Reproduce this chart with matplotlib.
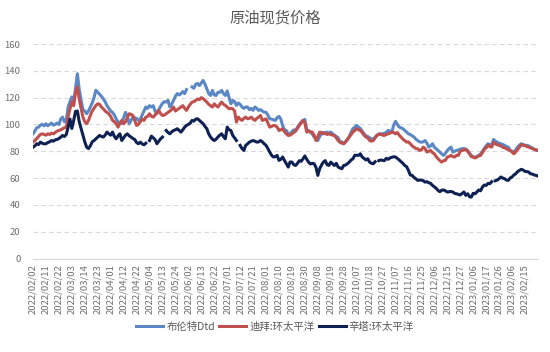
import numpy as np
import pandas as pd
import matplotlib
matplotlib.use('Agg')
import matplotlib.pyplot as plt

plt.rcParams['font.family'] = ['Noto Sans CJK SC', 'DejaVu Sans']
plt.rcParams['axes.unicode_minus'] = False

nan = np.nan

# 交易日（去掉部分假日）
holidays = ['2022-04-15', '2022-05-02', '2022-12-26', '2023-01-02']
dates = pd.bdate_range('2022-02-02', '2023-02-24')
dates = dates[~dates.isin(pd.to_datetime(holidays))]

brent = [
    93, 95, 97.5, 98, 99.5, 100, 99,
    100.5, 99, 100, 101, 99.5, 100, 101,
    100, 104, 105.5, 102, 103, 113, 117,
    120.5, 116.5, 127, 137.8, 126, 118, 111,
    110, 108, 110, 113, 116, 120, 125.5,
    124, 122.5, 121, 119, 117, 114, 112,
    110, 109, 107, 104, 102, 100.5, 101,
    105, 109, 106, 100.5, 103, 105.5, 105,
    104.5, 103, 104, 107, 110, 113, 112,
    114, 113, 114, 110, 108, 111, 113.5,
    115.7, 117, 116.7, 118, 113, 115, 118,
    121, 123, 122, 123, 124.5, 123, 126,
    nan, nan, 128, 127, 130, 130.6, 129,
    131, 132.8, 130, 126.6, 123, 121.6, 125.4,
    122, 121.6, 124, 124, 125.4, 123, 121.6,
    125, 120, 115.4, 118, 117, 114.2, 116,
    115, 113, 112, 113, 113, 111, 112,
    110.5, 113, 112, 110.5, 111, 110, 109.2,
    109, 107, 104.2, 104, 103.5, 103, 105,
    106, 104, 99, 96, 95.5, 93, 93,
    94.5, 96, 95, 98, 100, 101.8, 103,
    103.7, 96, 95.5, 94, 93, 90.6, 90,
    88, 91, 93, 94, 93.5, 94.3, 93.5,
    94.3, 93, 92, 91, 90, 86.8, 87,
    85.6, 87, 88.5, 91, 94.3, 96.8, 98,
    99.3, 98, 97, 95, 93, 91.5, 91,
    90, 89.3, 89, 90.5, 92, 93, 92.5,
    93, 93.5, 94, 95.5, 95, 94.3, 99.3,
    102.3, 100, 98, 97.5, 96.8, 95.5, 94.3,
    93, 92.5, 91.5, 90.6, 89, 88, 87,
    86.8, 87, 88, 86, 83.1, 84, 85.6,
    83, 81.9, 80.5, 79.4, 78, 76.9, 78.5,
    80.6, 82, 83.1, 79.4, 80, 80.6, 81,
    81.5, 81.9, 82, 81.5, 80.6, 78.5, 76.9,
    75.7, 75.5, 76, 76.9, 78, 80, 81.9,
    84, 85.6, 85, 84.4, 88.8, 87.5, 86.8,
    86, 85.6, 85, 84.4, 83.5, 83.1, 80.6,
    80, 79.4, 81, 83.1, 84.5, 85.6, 85,
    84.4, 84.4, 84, 83.1, 82.5, 81.4, 81,
    80.6,
]

dubai = [
    87, 88, 89.5, 91, 92.5, 93, 92.5,
    92, 93, 92.5, 93.5, 93, 94, 95,
    95.5, 96, 96.8, 97.5, 98, 106, 111.7,
    116.7, 114, 124, 127.9, 119, 112, 105.5,
    102, 100.5, 103, 106.7, 110, 112, 114.2,
    115.4, 115, 113, 111.7, 110, 109, 108,
    106, 103, 102, 100.5, 98, 101, 103,
    100.5, 102, 105, 108, 107.5, 106.7, 103,
    99.3, 100, 102, 104, 103, 105.5, 106,
    108, 106, 105.5, 107, 109, 110.5, 108,
    106.7, 107, 108, 109, 110, 111, 113,
    110, 111, 112, 113, 114, 112, 110.5,
    113, 115, 116.7, 117, 118, 119, 118.5,
    120, 119.2, 118, 116.7, 115, 114, 113,
    115.4, 114, 113, 115, 116.7, 115, 114.2,
    113, 111.7, 112, 111.7, 110, 101.8, 105.5,
    104, 103, 104.5, 105.5, 104.2, 104.5, 105.5,
    104, 103, 104.5, 105.5, 106.7, 103, 103.5,
    104.2, 101, 98, 98.5, 99.3, 99, 98,
    95.5, 96, 96.8, 94.5, 93, 91.8, 92,
    93, 94, 95.5, 97, 99.3, 101, 103,
    101, 94.3, 95, 94.5, 94.3, 92, 88,
    91, 94.3, 94, 93, 93.5, 92.5, 93,
    92.5, 92, 91.8, 90, 88, 86.8, 86,
    85.6, 87, 89, 90.6, 92.5, 94.3, 95.5,
    96.8, 96, 95.5, 94, 92, 90.6, 90,
    88, 87.5, 88, 90, 91.8, 92.5, 93,
    92, 91.8, 92.5, 93, 93.5, 94.3, 94,
    93, 94, 92, 90.6, 89, 88, 86.8,
    87, 85.6, 84, 83.1, 82, 81.9, 80.6,
    81, 83.1, 82, 79.4, 80, 80.6, 79,
    78.1, 76, 74.4, 73, 71.9, 73, 73.2,
    75.7, 76, 76.9, 76, 75.7, 77, 76.9,
    80, 80.6, 81, 81.4, 80, 78.1, 76,
    75.7, 75, 75.7, 76.5, 76.9, 79, 81.4,
    82.5, 84.4, 83.5, 83.1, 86.8, 85.5, 84.9,
    84.4, 84, 83, 82.5, 81.9, 81, 80.6,
    79.5, 78.1, 79.5, 81.4, 83, 84.9, 84.4,
    84.4, 83.5, 83.1, 82.5, 82, 81.4, 81,
    80.6,
]

cinta = [
    83, 84, 85.6, 85, 86.8, 86, 85.5,
    85.6, 86.5, 87, 88, 87.5, 88.5, 88.8,
    89.5, 90.5, 91.8, 91, 92.5, 98, 104,
    97, 103, 109.7, 110, 102, 97, 92,
    87, 83.1, 82, 84, 87, 88, 89.3,
    90.5, 91.8, 91, 90.6, 92, 94.3, 93,
    92, 94.3, 91, 89.3, 91.5, 93, 88,
    90, 92, 93, 91.5, 90.6, 89.5, 88.8,
    86.5, 85.6, 86.8, 85.5, 84.8, 86, nan,
    88, 91.3, 90, 88.8, 85.6, 87.5, 89.3,
    90.6, nan, 95.5, 94, 93, 94.5, 95.5,
    96, 96.8, 95.5, 94.3, 96, 98, 99.3,
    100, 101, 103, 102.5, 104, 104.2, 103,
    101.8, 100.5, 98.5, 96.8, 93, 90.6, 89,
    88, 89, 90.6, 92, 93, 91, 89.3,
    98, 96, 95.5, 91.8, 90, 88, nan,
    84.4, 82, 80.6, 84.4, 85.5, 86.8, 87.5,
    88, 87.5, 86.8, 87, 88, 87, 85.6,
    84.4, 82, 79.4, 77, 75.7, 76, 76.9,
    73.2, 74, 75.7, 73, 70.7, 68.2, 72,
    71.9, 70, 69.4, 71, 73, 72.5, 74.4,
    76.5, 74, 71.9, 70.5, 71, 70.7, 68,
    62, 67, 69.7, 71.9, 73, 70, 69.4,
    71.9, 70.5, 69.4, 71, 68.2, 67.5, 67,
    69.4, 69.7, 70.7, 71.9, 73.5, 74.4, 77,
    77, 76.9, 78.1, 75.7, 74.7, 73.5, 74.4,
    71.9, 71, 70.7, 72.2, nan, 73, 73.5,
    73.2, 73, 74.7, 74, 75, 75.5, 75.9,
    75.7, 74.7, 73.5, 72.2, 71, 69.4, 68.5,
    65.7, 62.3, 62, 60.5, 59.5, 58.3, 58.5,
    58.5, 58, 57, 57.3, 56.5, 56, 54.5,
    53.5, 52.3, 50.8, 49.8, 51, 51.1, 50.5,
    49.6, 49.8, 50, 49.6, 48.6, 48.3, 47.8,
    47.4, 48.5, 49.6, 47.1, 48.3, 46.1, 45.8,
    48.6, 48.3, 49.6, 51.1, 50.5, 53.3, 54.8,
    54.5, 56, 55.8, 57.3, nan, 58, 58.5,
    59.5, 60.8, 60, 59.5, 58.5, 58.3, 60,
    60.8, 62.3, 63.2, 64.8, 65.7, 66.5, 66,
    65, 64.8, 64.5, 63.2, 63, 62.3, 62,
    61.5,
]

labels = ['布伦特Dtd', '迪拜:环太平洋', '辛塔:环太平洋']
colors = ['#5B87C4', '#C0504D', '#0F2152']

n = min(len(dates), len(brent), len(dubai), len(cinta))
x = np.arange(n)

fig = plt.figure(figsize=(5.5, 3.52), dpi=100)
ax = fig.add_axes([0.06, 0.2656, 0.918, 0.6094])

for ys, lab, c in zip([brent, dubai, cinta], labels, colors):
    ax.plot(x, ys[:n], color=c, lw=2.2, label=lab, solid_joinstyle='round')

ax.set_xlim(0, n - 1)
ax.set_ylim(0, 160)
ax.set_yticks(range(0, 161, 20))
ax.yaxis.grid(True, ls=(0, (4, 3)), color='#D9D9D9', lw=0.8)
ax.set_axisbelow(True)

# 每7个交易日一个标签
ticks = list(range(0, n - 1, 7))
ax.set_xticks(ticks)
ax.set_xticklabels([dates[i].strftime('%Y/%m/%d') for i in ticks],
                   rotation=90, fontsize=6.8, color='#6E6E6E')
ax.tick_params(axis='y', labelsize=6.8, labelcolor='#6E6E6E', length=0, pad=9)
ax.tick_params(axis='x', length=0, pad=4)

for s in ['top', 'right', 'left']:
    ax.spines[s].set_visible(False)
ax.spines['bottom'].set_color('#D9D9D9')
ax.spines['bottom'].set_linewidth(0.8)

fig.text(0.5, 1 - 18 / 352, '原油现货价格', ha='center', va='center',
         fontsize=11, color='#595959')

leg = fig.legend(loc='center', bbox_to_anchor=(0.5, 1 - 327 / 352), ncol=3,
                 frameon=False, fontsize=7.5, handlelength=2.6,
                 columnspacing=0.4, handletextpad=0.3)
for t in leg.get_texts():
    t.set_color('#595959')

fig.savefig('out.png', dpi=100)
